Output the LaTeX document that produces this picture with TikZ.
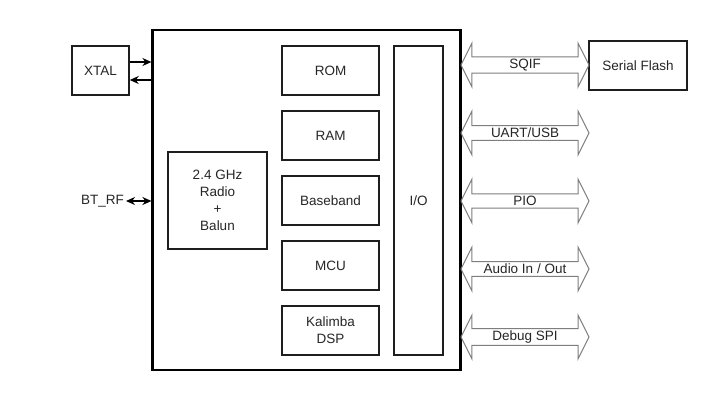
\documentclass[tikz,border=0pt]{standalone}
\usepackage{fontspec}
\setmainfont{Liberation Sans}
\usetikzlibrary{shapes.arrows,arrows.meta}
\definecolor{txt}{HTML}{262626}
\definecolor{edge}{HTML}{1E1E1E}
\definecolor{fat}{HTML}{7E7E7E}
\tikzset{
  blk/.style={draw=edge, line width=1.5pt, minimum width=97pt, minimum height=49pt, inner sep=0pt, text=txt, align=center},
  fatarrow/.style={double arrow, draw=fat, line width=1pt, minimum height=128pt, minimum width=44pt,
     double arrow head extend=11pt, double arrow tip angle=127, inner sep=0pt, text=txt},
  lbl/.style={text=txt, inner sep=2pt},
  conn/.style={draw=black, line width=1.4pt, >={Stealth[length=9pt,width=8pt]}}
}
\begin{document}
\begin{tikzpicture}[x=1pt,y=-1pt,every node/.style={font=\fontsize{13.5}{17}\selectfont}]
\useasboundingbox[fill=white] (0,0) rectangle (708,392);
% main box
\node[draw=black, line width=2.2pt, minimum width=308pt, minimum height=340pt, inner sep=0pt] (main) at (306.5,200) {};
% external blocks
\node[blk, minimum width=57pt] (xtal) at (100.5,70.5) {XTAL};
\node[blk, minimum width=98pt] (flash) at (638,65.5) {Serial Flash};
% internal blocks
\node[blk, minimum width=99pt, minimum height=97pt] (radio) at (217.5,200.5) {2.4 GHz\\Radio\\+\\Balun};
\node[blk] (rom) at (330.5,70.5) {ROM};
\node[blk] (ram) at (330.5,135.5) {RAM};
\node[blk] (bb) at (330.5,200.5) {Baseband};
\node[blk] (mcu) at (330.5,265.5) {MCU};
\node[blk] (dsp) at (330.5,330.5) {Kalimba\\DSP};
\node[blk, minimum width=49pt, minimum height=309pt] (io) at (418.5,200.5) {I/O};
% fat interface arrows
\node[fatarrow] (sqif) at (525,65) {SQIF};
\node[fatarrow] (uart) at (525,133) {UART/USB};
\node[fatarrow] (pio) at (525,201) {PIO};
\node[fatarrow] (audio) at (525,269) {Audio In / Out};
\node[fatarrow] (dbg) at (525,337) {Debug SPI};
% XTAL connectors
\coordinate (xa) at ([yshift=8.5pt]xtal.east);
\coordinate (xb) at ([yshift=-9.5pt]xtal.east);
\draw[conn,->] (xa) -- (xa -| main.west);
\draw[conn,<-] (xb) -- (xb -| main.west);
% BT_RF
\node[lbl, anchor=east] (bt) at (126,201) {BT\_RF};
\draw[conn,<->] (bt.east) -- (bt.east -| main.west);
\end{tikzpicture}
\end{document}
